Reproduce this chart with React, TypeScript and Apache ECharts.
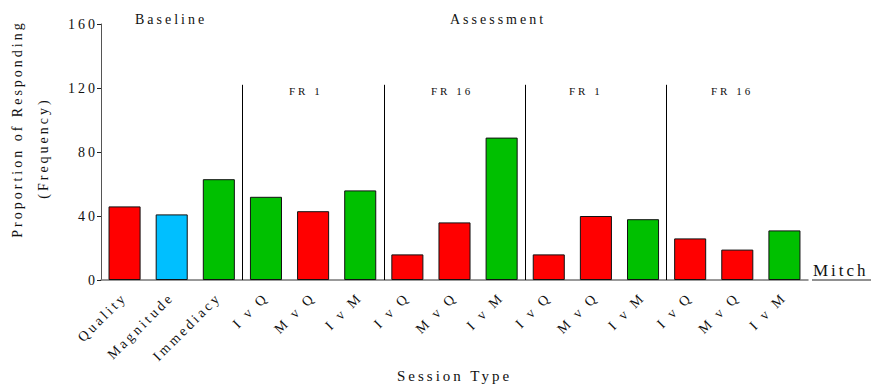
import React, { useEffect, useRef } from "react";
import * as echarts from "echarts";

const categories = [
  "Quality", "Magnitude", "Immediacy",
  "I v Q", "M v Q", "I v M",
  "I v Q", "M v Q", "I v M",
  "I v Q", "M v Q", "I v M",
  "I v Q", "M v Q", "I v M",
];
const values = [46, 41, 63, 52, 43, 56, 16, 36, 89, 16, 40, 38, 26, 19, 31];
const barKinds = ["Q", "M", "I", "I", "Q", "I", "Q", "Q", "I", "Q", "Q", "I", "Q", "Q", "I"];
const kindColors: Record<string, string> = { Q: "#FF0000", M: "#00BFFF", I: "#00C000" };
const separators = [3, 6, 9, 12];
const separatorTop = 122;
const yTicks = [0, 40, 80, 120, 160];

const FONT = "'Liberation Serif', 'Times New Roman', Times, 'DejaVu Serif', serif";

const txt = (text: string, size: number, extra: any = {}) => ({
  text,
  fill: "#111",
  fontSize: size,
  fontFamily: FONT,
  ...extra,
});

export default function App() {
  const ref = useRef<HTMLDivElement>(null);
  useEffect(() => {
    if (!ref.current) return;
    const chart = echarts.init(ref.current, undefined, { renderer: "svg" });
    chart.setOption({
      animation: false,
      textStyle: { fontFamily: FONT },
      grid: { left: 101, right: 66, top: 24, bottom: 110, containLabel: false },
      xAxis: [
        {
          type: "category",
          data: categories,
          axisLine: { lineStyle: { color: "#777", width: 1.5 } },
          axisTick: { alignWithLabel: true, length: 4, lineStyle: { color: "#222" } },
          axisLabel: { rotate: 45, fontSize: 14, color: "#111", margin: 15, fontFamily: FONT },
          name: "Session Type",
          nameLocation: "middle",
          nameGap: 88,
          nameTextStyle: { fontSize: 15, color: "#111", fontFamily: FONT },
        },
        { type: "value", min: 0, max: 15, show: false },
      ],
      yAxis: {
        type: "value",
        min: yTicks[0],
        max: yTicks[yTicks.length - 1],
        interval: 40,
        axisLine: { show: true, lineStyle: { color: "#555", width: 1 } },
        axisTick: { show: true, length: 4, lineStyle: { color: "#222" } },
        axisLabel: { fontSize: 14, color: "#111", margin: 3, fontFamily: FONT },
        splitLine: { show: false },
      },
      graphic: [
        { type: "text", left: 135, top: 12, style: txt("Baseline", 14) },
        { type: "text", left: 450, top: 12, style: txt("Assessment", 14) },
        { type: "text", left: 289, top: 85, style: txt("FR 1", 11) },
        { type: "text", left: 431, top: 85, style: txt("FR 16", 11) },
        { type: "text", left: 569, top: 85, style: txt("FR 1", 11) },
        { type: "text", left: 711, top: 85, style: txt("FR 16", 11) },
        { type: "text", left: 813, top: 262, style: txt("Mitch", 17) },
        { type: "line", shape: { x1: 812, y1: 280, x2: 871, y2: 280 }, style: { stroke: "#222", lineWidth: 1 } },
        {
          type: "text",
          x: 17, y: 129, rotation: Math.PI / 2,
          style: txt("Proportion of Responding", 14, { align: "center", verticalAlign: "middle" }),
        },
        {
          type: "text",
          x: 43, y: 148, rotation: Math.PI / 2,
          style: txt("(Frequency)", 14, { align: "center", verticalAlign: "middle" }),
        },
      ],
      series: [
        {
          type: "bar",
          data: values.map((v, i) => ({ value: v, itemStyle: { color: kindColors[barKinds[i]] } })),
          barCategoryGap: "32%",
          itemStyle: { borderColor: "#111", borderWidth: 1 },
        },
        {
          type: "lines",
          coordinateSystem: "cartesian2d",
          xAxisIndex: 1,
          yAxisIndex: 0,
          silent: true,
          lineStyle: { color: "#000", width: 1, opacity: 1 },
          data: separators.map((s) => ({ coords: [[s, 0], [s, separatorTop]] })),
        },
      ],
    });
    return () => chart.dispose();
  }, []);
  return (
    <>
      <style>{`.chartbox svg text { letter-spacing: 3px; }`}</style>
      <div className="chartbox" ref={ref} style={{ width: 874, height: 390, position: "absolute", left: 0, top: 0 }} />
    </>
  );
}
